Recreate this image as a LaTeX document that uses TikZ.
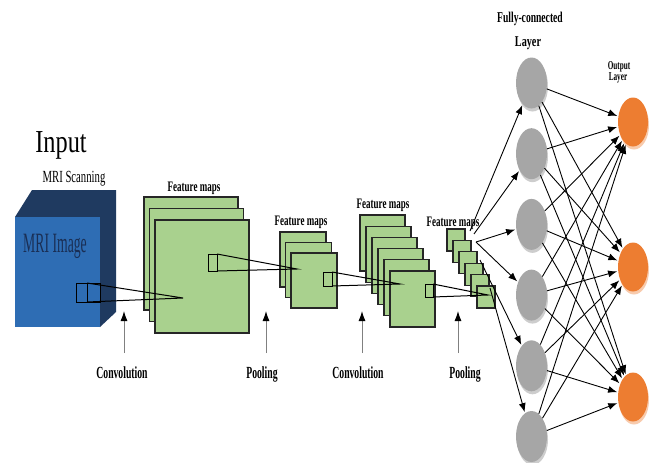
\documentclass[tikz,border=0pt]{standalone}
\usepackage{fontspec}
\setmainfont{Liberation Serif}
\usepackage{graphicx}
\usetikzlibrary{arrows.meta}
\usetikzlibrary{shapes.geometric}
\usetikzlibrary{shadows}
\usetikzlibrary{positioning, calc}

\definecolor{mapgreen}{HTML}{A9D18E}
\definecolor{cubefront}{HTML}{2E6DB4}
\definecolor{cubedark}{HTML}{1F3A60}
\definecolor{mritext}{HTML}{1A2F55}
\definecolor{fcgray}{HTML}{A6A6A6}
\definecolor{fcshade}{HTML}{CDCDCD}
\definecolor{outorange}{HTML}{ED7D31}
\definecolor{outshade}{HTML}{F8CBAD}

% condensed lettering
\newcommand{\narrow}[2][0.65]{\scalebox{#1}[1]{#2}}

\begin{document}
\begin{tikzpicture}[x=1pt,y=-1pt]
  \tikzstyle{fmap}=[draw=black!85,line width=1.1pt,fill=mapgreen]
  \tikzstyle{kernel}=[draw=black,line width=1pt]
  \tikzstyle{tag}=[inner sep=0pt,anchor=base,font=\bfseries\fontsize{14.5}{15}\selectfont]
  \tikzstyle{optag}=[inner sep=0pt,anchor=base,font=\bfseries\fontsize{17}{17}\selectfont]
  \tikzstyle{upar}=[draw=gray,line width=1pt,-{Latex[length=10pt,width=7pt,color=black]}]
  \tikzstyle{link}=[draw=black,line width=0.9pt,-{Latex[length=9pt,width=7pt]},shorten >=1pt]
  \tikzstyle{fcnode}=[ellipse,minimum width=31pt,minimum height=51pt,inner sep=0pt,
    fill=fcgray,drop shadow={shadow xshift=1pt,shadow yshift=-3pt,fill=fcshade,opacity=1}]
  \tikzstyle{outnode}=[ellipse,minimum width=30pt,minimum height=49pt,inner sep=0pt,
    fill=outorange,drop shadow={shadow xshift=1pt,shadow yshift=-3pt,fill=outshade,opacity=1}]

  \fill[white] (0,0) rectangle (656,463);
  \useasboundingbox (0,0) rectangle (656,463);

  % INPUT CUBE
  \fill[cubedark] (15,217) -- (32,190) -- (116,190) -- (116,312) -- (100,327) -- cycle;
  \fill[cubefront] (15,217) rectangle (100,327);
  \node[inner sep=0pt,anchor=base,font=\fontsize{32}{32}\selectfont] (inputlbl) at (61,152) {\narrow[0.76]{Input}};
  \node[inner sep=0pt,anchor=base,font=\fontsize{17}{17}\selectfont] (scanlbl) at (74,182) {\narrow[0.63]{MRI Scanning}};
  \node[inner sep=0pt,anchor=base,text=mritext,font=\fontsize{28}{28}\selectfont] (imglbl) at (55,252) {\narrow[0.49]{MRI Image}};

  % FEATURE MAP STACKS
  \foreach \n/\x/\y/\dx/\dy/\w/\h in {3/144/197/5.5/11.5/94/113, 3/280/232/5.5/10.5/46/55,
      6/360/215/6/11.2/45/56, 6/447/229/6/11.4/18/22}{
      \foreach \k in {1,...,\n}{
          \draw[fmap] (\x+\k*\dx-\dx,\y+\k*\dy-\dy) rectangle ++(\w,\h);
        }
    }

  % RECEPTIVE FIELDS
  \foreach \x/\y/\w/\h/\m/\tx/\ty in {76/283/24/19/87/183/298, 208/254/9/17/217/297/269,
      323/272/9/14/332/400/284, 425/284/8/13/433/488/295}{
      \draw[kernel] (\x,\y) rectangle ++(\w,\h);
      \draw[kernel] (\m,\y) -- (\m,\y+\h);
      \draw[kernel] (\m,\y) -- (\tx,\ty) -- (\m,\y+\h);
    }

  \node[tag] (fm1lbl) at (194,191) {\narrow[0.62]{Feature maps}};
  \node[tag] (fm2lbl) at (301,225) {\narrow[0.62]{Feature maps}};
  \node[tag] (fm3lbl) at (383,208) {\narrow[0.62]{Feature maps}};
  \node[tag] (fm4lbl) at (453,226) {\narrow[0.62]{Feature maps}};

  % OPERATIONS
  \foreach \ax/\lx/\txt/\s in {124/122/Convolution/a, 266/262/Pooling/b,
      362/358/Convolution/c, 458/465/Pooling/d}{
      \node[optag] (op\s) at (\lx,378) {\narrow[0.57]{\txt}};
      \coordinate (tip\s) at (\ax,311);
      \draw[upar] (\ax,353) -- (tip\s);
    }

  % FULLY-CONNECTED AND OUTPUT
  \foreach \i [evaluate={\y=83+(\i-1)*70.7;}] in {1,...,6}{
      \node[fcnode] (fc\i) at (531.5,\y) {};
    }
  \node[outnode] (out1) at (633,122) {};
  \node[outnode] (out2) at (633,267) {};
  \node[outnode] (out3) at (633,397) {};

  \node[tag,font=\bfseries\fontsize{15}{15}\selectfont] (fclbl) at (530,23) {\narrow[0.64]{Fully-connected}};
  \node[tag,font=\bfseries\fontsize{15}{15}\selectfont] (fclbl2) at (528,46) {\narrow[0.68]{Layer}};
  \node[tag,font=\bfseries\fontsize{12}{12}\selectfont] (outlbl) at (619,69) {\narrow[0.6]{Output}};
  \node[tag,font=\bfseries\fontsize{12}{12}\selectfont] (outlbl2) at (618,80) {\narrow[0.6]{Layer}};

  \coordinate (flatA) at (470,231);
  \coordinate (flatB) at (474,234);
  \coordinate (flatC) at (476,242);
  \coordinate (flatD) at (480,260);
  \coordinate (flatE) at (490,288);
  \draw[link] (flatA) -- (fc1);
  \draw[link] (flatB) -- (fc2);
  \draw[link] (flatC) -- (fc3);
  \draw[link] (flatC) -- (fc4);
  \draw[link] (flatD) -- (fc5);
  \draw[link] (flatE) -- (fc6);

  \foreach \i in {1,...,6}{
      \foreach \j in {1,2,3}{
          \draw[link] (fc\i) -- (out\j);
        }
    }
\end{tikzpicture}
\end{document}
